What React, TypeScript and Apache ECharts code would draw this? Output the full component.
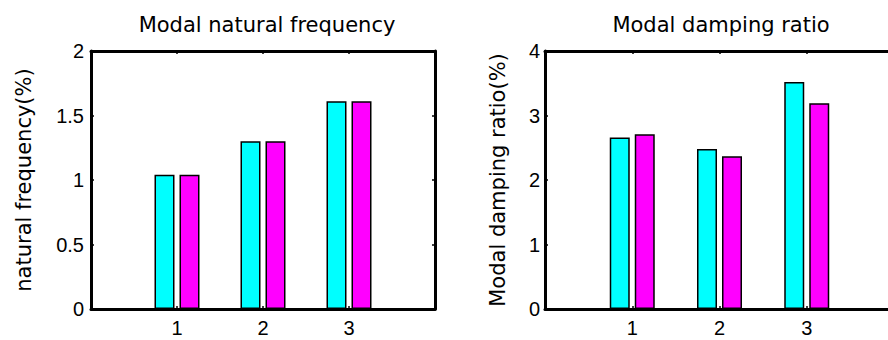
import React, { useEffect, useRef } from "react";
import * as echarts from "echarts";

const modes = [1, 2, 3];
const xTickLabels = ["1", "2", "3"];
const freqA = [1.04, 1.3, 1.61];
const freqB = [1.04, 1.3, 1.61];
const dampA = [2.66, 2.48, 3.52];
const dampB = [2.71, 2.37, 3.19];
const titles = ["Modal natural frequency", "Modal damping ratio"];
const yNames = ["natural frequency(%)", "Modal damping ratio(%)"];

const FONT = "DejaVu Sans";
const TICKFONT = "Liberation Sans";
const W = 900;

export default function App() {
  const ref = useRef<HTMLDivElement>(null);
  useEffect(() => {
    if (!ref.current) return;
    const chart = echarts.init(ref.current, null, { renderer: "svg" });
    const grids = [
      { left: 91, right: W - 435, top: 51, bottom: 340 - 309 },
      { left: 545, right: W - 894, top: 51, bottom: 340 - 309 },
    ];
    const yMax = [2, 4];
    const yInt = [0.5, 1];
    const labelMargins = [7, 5];
    const nameGaps = [57, 37];
    const xAxes: any[] = [];
    const yAxes: any[] = [];
    grids.forEach((_, i) => {
      xAxes.push({
        gridIndex: i,
        type: "value",
        min: 0,
        max: 4,
        interval: 1,
        position: "bottom",
        splitLine: { show: false },
        axisLine: { show: true, onZero: false, lineStyle: { color: "#000", width: 3 } },
        axisTick: { show: true, inside: true, length: 3, lineStyle: { color: "#000", width: 1.5 } },
        axisLabel: {
          color: "#000",
          fontFamily: TICKFONT,
          fontSize: 20,
          margin: 9,
          formatter: (v: number) => {
            const idx = modes.indexOf(v);
            return idx >= 0 ? xTickLabels[idx] : "";
          },
        },
      });
      xAxes.push({
        gridIndex: i,
        type: "value",
        min: 0,
        max: 4,
        interval: 1,
        position: "top",
        splitLine: { show: false },
        axisLine: { show: true, onZero: false, lineStyle: { color: "#000", width: 3 } },
        axisTick: { show: true, inside: true, length: 3, lineStyle: { color: "#000", width: 1.5 } },
        axisLabel: { show: false },
      });
      yAxes.push({
        gridIndex: i,
        type: "value",
        min: 0,
        max: yMax[i],
        interval: yInt[i],
        position: "left",
        name: yNames[i],
        nameLocation: "middle",
        nameGap: nameGaps[i],
        nameTextStyle: { color: "#000", fontFamily: FONT, fontSize: 21 },
        splitLine: { show: false },
        axisLine: { show: true, onZero: false, lineStyle: { color: "#000", width: 3 } },
        axisTick: { show: true, inside: true, length: 3, lineStyle: { color: "#000", width: 1.5 } },
        axisLabel: { color: "#000", fontFamily: TICKFONT, fontSize: 20, margin: labelMargins[i] },
      });
      yAxes.push({
        gridIndex: i,
        type: "value",
        min: 0,
        max: yMax[i],
        interval: yInt[i],
        position: "right",
        splitLine: { show: false },
        axisLine: { show: true, onZero: false, lineStyle: { color: "#000", width: 3 } },
        axisTick: { show: true, inside: true, length: 3, lineStyle: { color: "#000", width: 1.5 } },
        axisLabel: { show: false },
      });
    });

    const mk = (vals: number[], color: string, gi: number) => ({
      type: "bar",
      xAxisIndex: gi * 2,
      yAxisIndex: gi * 2,
      data: modes.map((m, k) => [m, vals[k]]),
      barWidth: 20,
      barGap: "25%",
      itemStyle: { color, borderColor: "#000", borderWidth: 1.5 },
      z: 3,
    });

    chart.setOption({
      animation: false,
      backgroundColor: "#fff",
      title: [
        {
          text: titles[0],
          left: 262,
          top: 9,
          textAlign: "center",
          textStyle: { color: "#000", fontFamily: FONT, fontSize: 21, fontWeight: "normal" },
        },
        {
          text: titles[1],
          left: 716,
          top: 9,
          textAlign: "center",
          textStyle: { color: "#000", fontFamily: FONT, fontSize: 21, fontWeight: "normal" },
        },
      ],
      grid: grids,
      xAxis: xAxes,
      yAxis: yAxes,
      series: [
        mk(freqA, "#00FFFF", 0),
        mk(freqB, "#FF00FF", 0),
        mk(dampA, "#00FFFF", 1),
        mk(dampB, "#FF00FF", 1),
      ],
    });
    return () => chart.dispose();
  }, []);
  return (
    <div
      style={{
        position: "absolute",
        left: 0,
        top: 0,
        width: 888,
        height: 340,
        overflow: "hidden",
        background: "#fff",
      }}
    >
      <div ref={ref} style={{ width: W, height: 340 }} />
    </div>
  );
}
